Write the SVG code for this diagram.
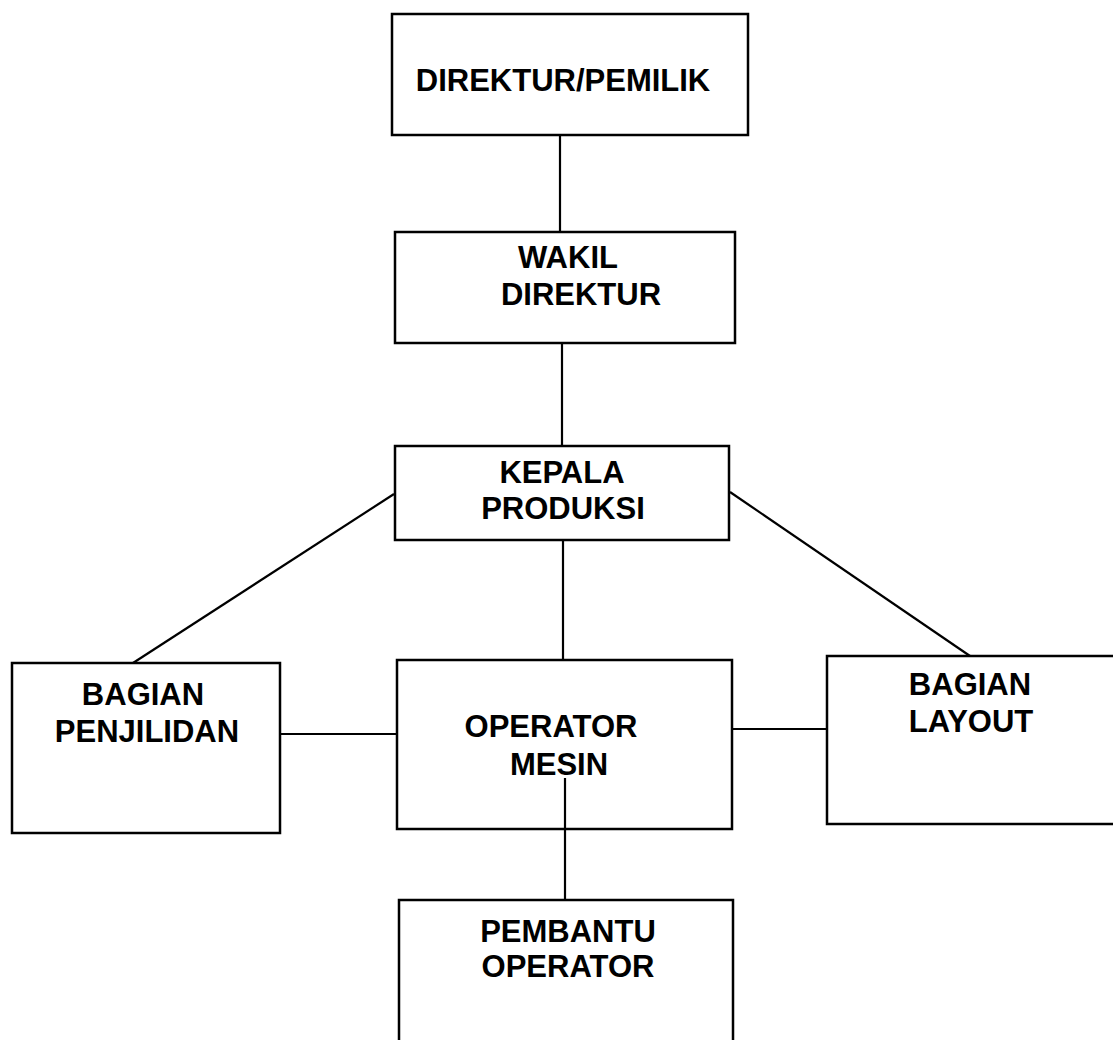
<svg xmlns="http://www.w3.org/2000/svg" width="1113" height="1040" viewBox="0 0 1113 1040">
<style>
.box{fill:#fff;stroke:#000;stroke-width:2.5}
.ln{stroke:#000;stroke-width:2.2;fill:none}
text{font-family:"Liberation Sans",Arial,sans-serif;font-weight:bold;font-size:31px;fill:#000;text-anchor:middle}
</style>
<rect width="1113" height="1040" fill="#fff"/>
<g id="connectors">
<line class="ln" x1="560" y1="135" x2="560" y2="232"/>
<line class="ln" x1="562" y1="343" x2="562" y2="446"/>
<line class="ln" x1="394" y1="494" x2="133" y2="663"/>
<line class="ln" x1="730" y1="492" x2="970" y2="656"/>
<line class="ln" x1="563" y1="540" x2="563" y2="660"/>
<line class="ln" x1="280" y1="734" x2="397" y2="734"/>
<line class="ln" x1="732" y1="729" x2="827" y2="729"/>
<line class="ln" x1="565" y1="778" x2="565" y2="900"/>
</g>
<g id="direktur-pemilik">
<rect class="box" x="392" y="14" width="356" height="121"/>
<text x="563" y="91">DIREKTUR/PEMILIK</text>
</g>
<g id="wakil-direktur">
<rect class="box" x="395" y="232" width="340" height="111"/>
<text x="568" y="268">WAKIL</text>
<text x="581" y="305">DIREKTUR</text>
</g>
<g id="kepala-produksi">
<rect class="box" x="395" y="446" width="334" height="94"/>
<text x="562" y="483">KEPALA</text>
<text x="563" y="519">PRODUKSI</text>
</g>
<g id="bagian-penjilidan">
<rect class="box" x="12" y="663" width="268" height="170"/>
<text x="143" y="705">BAGIAN</text>
<text x="147" y="742">PENJILIDAN</text>
</g>
<g id="operator-mesin">
<rect class="box" x="397" y="660" width="335" height="169" fill-opacity="0"/>
<text x="551" y="737">OPERATOR</text>
<text x="559" y="775">MESIN</text>
</g>
<g id="bagian-layout">
<rect class="box" x="827" y="656" width="290" height="168"/>
<text x="970" y="695">BAGIAN</text>
<text x="971" y="732">LAYOUT</text>
</g>
<g id="pembantu-operator">
<rect class="box" x="399" y="900" width="334" height="160"/>
<text x="568" y="942">PEMBANTU</text>
<text x="568" y="977">OPERATOR</text>
</g>
</svg>
